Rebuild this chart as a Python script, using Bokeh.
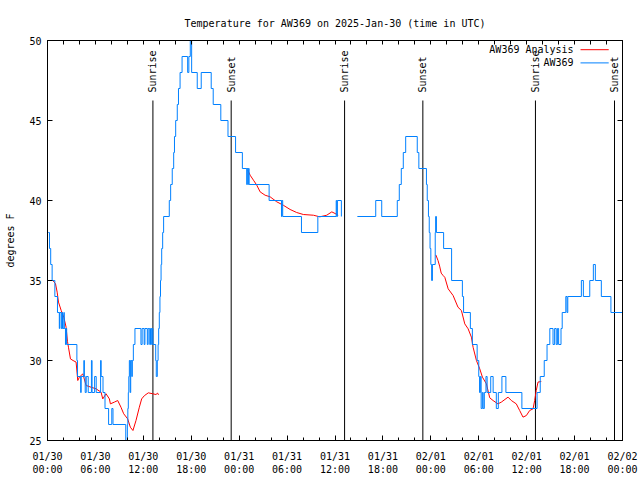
import math
from bokeh.plotting import figure
from bokeh.models import Range1d, FixedTicker, LinearAxis
from bokeh.core.properties import value
from bokeh.embed import file_html
from bokeh.resources import INLINE

FONT = "DejaVu Sans Mono"

# ---- data (time in hours since 2025-01-30 00:00 UTC, temperature in deg F) ----
obs1_t = [0.10, 0.25, 0.40, 0.58, 0.92, 1.25, 1.48, 1.53, 1.72, 1.80, 1.88, 2.05, 2.10, 2.25, 2.32, 2.40,
          3.68, 3.76, 4.15, 4.22, 4.55, 4.62, 4.72, 4.85, 5.10, 5.50, 5.58, 5.90, 6.10, 6.65, 6.72, 6.95,
          7.20, 7.65, 8.05, 8.20, 9.80, 10.00, 10.06, 10.12, 10.18, 10.25, 10.35, 10.42, 10.55, 10.62,
          10.75, 10.95, 11.70, 11.85, 12.10, 12.20, 12.50, 12.60, 12.80, 12.90, 13.05, 13.10, 13.20,
          13.55, 13.62, 13.75, 13.85, 13.92, 14.00, 14.08, 14.15, 14.22, 14.30, 14.42, 14.54, 15.25,
          15.42, 15.62, 15.80, 15.90, 16.05, 16.25, 16.40, 16.60, 16.85, 17.55, 17.70, 17.88, 18.05,
          18.75, 19.25, 20.50, 20.75, 21.70, 22.60, 23.55, 24.40, 24.95, 25.00, 25.10, 25.15, 25.25,
          27.75, 29.30, 29.35, 29.45, 31.80, 33.85, 36.15, 36.22, 36.30, 36.80]
obs1_T = [38, 37, 36, 35, 34, 33, 32, 33, 32, 33, 32, 33, 32, 31, 32, 31,
          30, 29, 28, 29, 30, 29, 28, 29, 28, 30, 28, 29, 28, 30, 29, 28,
          27, 26, 27, 26, 25, 26, 27, 28, 29, 30, 28, 30, 29, 30,
          31, 32, 31, 32, 31, 32, 31, 32, 31, 32, 31, 32, 31,
          30, 29, 30, 31, 32, 33, 34, 35, 36, 37, 38, 39, 40,
          41, 42, 43, 44, 45, 46, 47, 48, 49, 48, 49, 50, 48,
          47, 48, 47, 46, 45, 44, 43, 42, 41, 42, 41, 42, 41,
          40, 39, 40, 39, 38, 39, 40, 39, 40, 39]

obs2_t = [38.80, 41.10, 41.85, 43.80, 44.05, 44.30, 44.55, 44.85, 46.30, 46.50, 47.45, 47.55, 47.70,
          47.80, 47.90, 48.00, 48.10, 48.20, 48.55, 48.60, 48.70, 49.60, 50.60, 51.95, 52.10, 52.95,
          53.20, 53.80, 54.00, 54.10, 54.20, 54.30, 54.45, 54.55, 54.70, 54.90, 55.05, 55.50, 55.80,
          56.20, 56.45, 56.90, 57.40, 59.40, 61.30, 61.70, 62.20, 62.55, 62.90, 63.30, 63.50, 63.70,
          63.85, 64.00, 64.30, 64.45, 64.90, 65.05, 65.15, 66.85, 67.10, 67.90, 68.35, 68.60, 69.35,
          70.55, 72.00]
obs2_T = [39, 40, 39, 40, 41, 42, 43, 44, 43, 42, 41, 40, 39,
          38, 37, 36, 35, 36, 38, 39, 38, 37, 35, 34, 33, 32,
          31, 30, 29, 28, 29, 27, 28, 27, 28, 29, 28, 29, 28,
          27, 28, 29, 28, 27, 28, 29, 30, 31, 32, 31, 32, 31,
          32, 31, 32, 33, 34, 33, 34, 35, 34, 35, 36, 35, 34,
          33, 33]

ana1_t = [0.67, 1.00, 1.21, 1.375, 1.71, 2.04, 2.33, 2.50, 2.625, 2.875, 3.20, 3.58, 3.79, 4.00, 4.42,
          4.54, 4.83, 5.46, 6.08, 6.71, 6.92, 7.33, 7.75, 7.875, 8.375, 8.79, 9.20, 9.54, 10.04, 10.375,
          10.70, 11.08, 11.50, 11.79, 12.125, 12.625, 13.17, 13.58, 13.79, 13.90]
ana1_T = [35.0, 34.8, 34.27, 33.65, 33.13, 32.71, 32.08, 31.2, 30.83, 30.1, 30.0, 29.9, 28.75, 28.96, 29.17,
          28.96, 28.44, 28.33, 28.23, 28.02, 27.6, 27.92, 27.6, 27.29, 27.4, 27.5, 27.08, 26.67, 26.35, 25.83,
          25.625, 26.25, 27.08, 27.6, 27.8, 27.98, 27.92, 27.875, 27.96, 27.85]

ana2_t = [25.08, 25.375, 25.79, 26.2, 26.625, 27.25, 27.875, 28.7, 29.54, 30.375, 31.2, 32.04, 33.3,
          34.1, 34.96, 35.6, 36.0, 36.4]
ana2_T = [41.9, 41.58, 41.27, 40.96, 40.54, 40.33, 40.23, 39.92, 39.7, 39.44, 39.25, 39.125, 39.08,
          38.98, 39.08, 39.29, 39.19, 39.08]

ana3_t = [48.625, 48.9, 49.1, 49.3, 49.54, 49.75, 50.17, 50.79, 51.4, 51.83, 52.25, 52.67, 53.08, 53.29,
          53.71, 54.125, 54.46, 54.96, 55.375, 55.79, 56.4, 56.83, 57.67, 58.08, 58.7, 59.125, 59.54,
          59.96, 60.375, 60.8, 61.0, 61.2, 61.42, 61.83]
ana3_T = [36.6, 36.25, 35.9, 35.46, 35.31, 35.2, 34.48, 34.06, 33.33, 33.125, 32.29, 31.98, 31.46, 30.83,
          30.0, 29.48, 28.96, 28.54, 27.67, 27.5, 27.29, 27.4, 27.71, 27.5, 27.29, 26.875, 26.46,
          26.56, 26.875, 26.98, 27.5, 28.125, 28.65, 28.69]

event_t = [13.2, 23.0, 37.2, 47.0, 61.1, 71.0]
event_names = ["Sunrise", "Sunset", "Sunrise", "Sunset", "Sunrise", "Sunset"]

x_ticks = [0, 6, 12, 18, 24, 30, 36, 42, 48, 54, 60, 66, 72]
x_tick_labels = ["01/30\n00:00", "01/30\n06:00", "01/30\n12:00", "01/30\n18:00",
                 "01/31\n00:00", "01/31\n06:00", "01/31\n12:00", "01/31\n18:00",
                 "02/01\n00:00", "02/01\n06:00", "02/01\n12:00", "02/01\n18:00",
                 "02/02\n00:00"]
x_minor = list(range(0, 73, 2))
y_ticks = [25, 30, 35, 40, 45, 50]

series_names = ["AW369 Analysis", "AW369"]
RED = "#ff0000"
BLUE = "#0080ff"

X0, X1 = 0, 72
Y0, Y1 = 25, 50

p = figure(width=640, height=480, x_range=Range1d(X0, X1), y_range=Range1d(Y0, Y1),
           output_backend="svg", toolbar_location=None,
           min_border_left=47, min_border_right=18, min_border_top=40, min_border_bottom=40)
p.background_fill_color = "white"
p.border_fill_color = "white"
p.outline_line_color = "black"
p.outline_line_width = 1
p.grid.visible = False

p.title.text = "Temperature for AW369 on 2025-Jan-30 (time in UTC)"
p.title.align = "center"
p.title.text_font = FONT
p.title.text_font_size = "10px"
p.title.text_font_style = "normal"
p.title.text_color = "black"
p.title.standoff = 24

def style_axis(ax):
    ax.axis_line_color = "black"
    ax.major_tick_line_color = "black"
    ax.minor_tick_line_color = "black"
    ax.major_tick_in = 5
    ax.major_tick_out = 0
    ax.minor_tick_in = 3
    ax.minor_tick_out = 0
    ax.major_label_text_font = FONT
    ax.major_label_text_font_size = "10px"
    ax.major_label_text_color = "black"

xa = p.xaxis[0]
xa.ticker = FixedTicker(ticks=x_ticks, minor_ticks=x_minor)
xa.major_label_overrides = {t: lab for t, lab in zip(x_ticks, x_tick_labels)}
style_axis(xa)
xa.major_label_standoff = 10

ya = p.yaxis[0]
ya.ticker = FixedTicker(ticks=y_ticks, minor_ticks=[])
style_axis(ya)
ya.major_label_standoff = 6
ya.axis_label = "degrees F"
ya.axis_label_text_font = FONT
ya.axis_label_text_font_size = "10px"
ya.axis_label_text_font_style = "normal"
ya.axis_label_text_color = "black"
ya.axis_label_standoff = 10

# mirrored tick marks on top and right (ticks only, no labels)
top = LinearAxis(ticker=FixedTicker(ticks=[], minor_ticks=x_minor))
style_axis(top)
top.minor_tick_in = 4
p.add_layout(top, "above")

right = LinearAxis(ticker=FixedTicker(ticks=[], minor_ticks=y_ticks))
style_axis(right)
right.minor_tick_in = 5
p.add_layout(right, "right")

# Sunrise / sunset markers
p.segment(x0=event_t, y0=[Y0] * len(event_t), x1=event_t,
          y1=[Y0 + 0.85 * (Y1 - Y0)] * len(event_t), line_color="black", line_width=1)
p.text(x=event_t, y=[Y0 + 0.87 * (Y1 - Y0)] * len(event_t), text=event_names,
       angle=math.pi / 2, text_align="left", text_baseline="middle",
       text_font=value(FONT), text_font_size="10px", text_color="black")

# Analysis (red) and observations (blue)
for tt, TT in [(ana1_t, ana1_T), (ana2_t, ana2_T), (ana3_t, ana3_T)]:
    p.line(tt, TT, line_color=RED, line_width=1)
for tt, TT in [(obs1_t, obs1_T), (obs2_t, obs2_T)]:
    p.step(tt, TT, mode="after", line_color=BLUE, line_width=1)

# gnuplot-style key (label then sample), top right
key_text_x = X0 + 0.915 * (X1 - X0)
key_x0 = X0 + 0.927 * (X1 - X0)
key_x1 = X0 + 0.976 * (X1 - X0)
key_y = [Y0 + 0.977 * (Y1 - Y0), Y0 + 0.944 * (Y1 - Y0)]
p.text(x=[key_text_x] * 2, y=key_y, text=series_names, text_align="right",
       text_baseline="middle", text_font=value(FONT), text_font_size="10px", text_color="black")
p.segment(x0=[key_x0] * 2, y0=key_y, x1=[key_x1] * 2, y1=key_y,
          line_color=[RED, BLUE], line_width=1)

open("out.html", "w").write(file_html(p, INLINE))
